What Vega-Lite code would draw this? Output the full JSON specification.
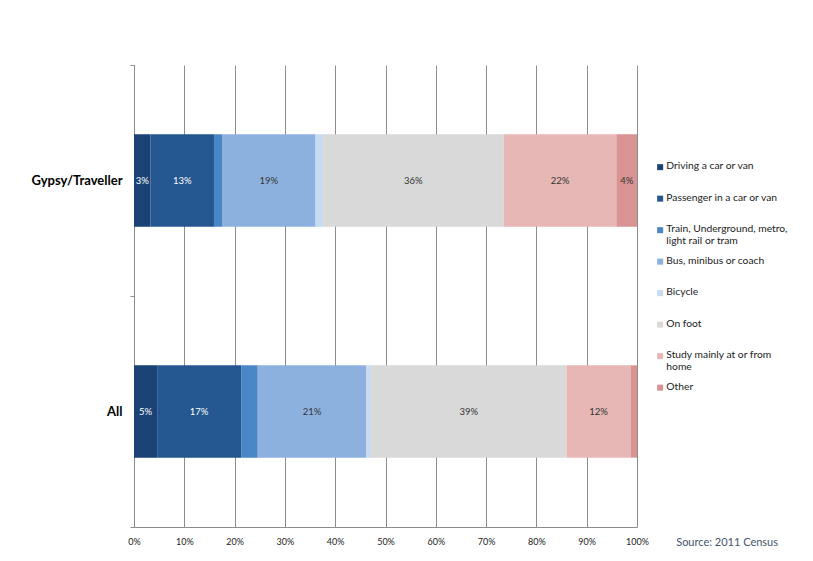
{
  "$schema": "https://vega.github.io/schema/vega-lite/v6.json",
  "description": "Mode of travel to place of study, Gypsy/Traveller vs All, 100% stacked bars.",
  "width": 503,
  "height": 462,
  "autosize": {"type": "none"},
  "padding": {"left": 134, "top": 65, "right": 176, "bottom": 34},
  "background": "white",
  "title": {
    "text": "Source: 2011 Census",
    "orient": "bottom",
    "anchor": "end",
    "frame": "group",
    "offset": 0,
    "dx": 141,
    "dy": -9,
    "fontSize": 11,
    "fontWeight": "normal",
    "font": "Lato",
    "color": "#44546a"
  },
  "data": {
    "values": [
      {"group": "Gypsy/Traveller", "k": 1, "mode": "Driving a car or van", "pct": 3.3, "label": "3%"},
      {"group": "Gypsy/Traveller", "k": 2, "mode": "Passenger in a car or van", "pct": 12.6, "label": "13%"},
      {"group": "Gypsy/Traveller", "k": 3, "mode": "Train, Underground, metro, light rail or tram", "pct": 1.6, "label": ""},
      {"group": "Gypsy/Traveller", "k": 4, "mode": "Bus, minibus or coach", "pct": 18.6, "label": "19%"},
      {"group": "Gypsy/Traveller", "k": 5, "mode": "Bicycle", "pct": 1.5, "label": ""},
      {"group": "Gypsy/Traveller", "k": 6, "mode": "On foot", "pct": 35.9, "label": "36%"},
      {"group": "Gypsy/Traveller", "k": 7, "mode": "Study mainly at or from home", "pct": 22.4, "label": "22%"},
      {"group": "Gypsy/Traveller", "k": 8, "mode": "Other", "pct": 4.1, "label": "4%"},
      {"group": "All", "k": 1, "mode": "Driving a car or van", "pct": 4.6, "label": "5%"},
      {"group": "All", "k": 2, "mode": "Passenger in a car or van", "pct": 16.7, "label": "17%"},
      {"group": "All", "k": 3, "mode": "Train, Underground, metro, light rail or tram", "pct": 3.3, "label": ""},
      {"group": "All", "k": 4, "mode": "Bus, minibus or coach", "pct": 21.6, "label": "21%"},
      {"group": "All", "k": 5, "mode": "Bicycle", "pct": 0.9, "label": ""},
      {"group": "All", "k": 6, "mode": "On foot", "pct": 38.9, "label": "39%"},
      {"group": "All", "k": 7, "mode": "Study mainly at or from home", "pct": 12.7, "label": "12%"},
      {"group": "All", "k": 8, "mode": "Other", "pct": 1.3, "label": ""}
    ]
  },
  "transform": [
    {"stack": "pct", "groupby": ["group"], "sort": [{"field": "k"}], "offset": "normalize", "as": ["x0", "x1"]},
    {"calculate": "(datum.x0 + datum.x1) / 2", "as": "xm"}
  ],
  "encoding": {
    "y": {
      "field": "group",
      "type": "nominal",
      "sort": ["Gypsy/Traveller", "All"],
      "title": null,
      "scale": {"paddingInner": 0, "paddingOuter": 0},
      "axis": {
        "labelFont": "Lato",
        "labelFontSize": 13,
        "labelFontWeight": "bold",
        "labelColor": "#000000",
        "labelPadding": 8,
        "tickBand": "extent",
        "tickSize": 4,
        "tickColor": "#8c8c8c",
        "domainColor": "#8c8c8c"
      }
    }
  },
  "layer": [
    {
      "mark": {"type": "bar", "height": {"band": 0.4}},
      "encoding": {
        "x": {
          "field": "x0",
          "type": "quantitative",
          "title": null,
          "scale": {"domain": [0, 1], "nice": false},
          "axis": {
            "format": ".0%",
            "values": [0, 0.1, 0.2, 0.3, 0.4, 0.5, 0.6, 0.7, 0.8, 0.9, 1],
            "grid": true,
            "gridColor": "#8c8c8c",
            "gridOpacity": 1,
            "domainColor": "#8c8c8c",
            "ticks": false,
            "labelFlush": false,
            "labelFont": "Lato",
            "labelFontSize": 9,
            "labelColor": "#222222",
            "labelPadding": 10
          }
        },
        "x2": {"field": "x1"},
        "color": {
          "field": "mode",
          "type": "nominal",
          "scale": {
            "domain": [
              "Driving a car or van",
              "Passenger in a car or van",
              "Train, Underground, metro, light rail or tram",
              "Bus, minibus or coach",
              "Bicycle",
              "On foot",
              "Study mainly at or from home",
              "Other"
            ],
            "range": ["#1a4274", "#24578f", "#4a86c5", "#8db1de", "#c6daf0", "#d8d9d8", "#e6b7b4", "#d99393"]
          },
          "legend": {
            "orient": "none",
            "legendX": 521,
            "legendY": 97,
            "title": null,
            "padding": 0,
            "symbolType": "square",
            "symbolSize": 36,
            "symbolStrokeWidth": 0,
            "gridAlign": "all",
            "rowPadding": 8.5,
            "labelFont": "Lato",
            "labelFontSize": 10.3,
            "labelLineHeight": 13,
            "labelColor": "#222222",
            "labelOffset": 1,
            "labelExpr": "datum.label == 'Train, Underground, metro, light rail or tram' ? ['Train, Underground, metro,', 'light rail or tram'] : datum.label == 'Study mainly at or from home' ? ['Study mainly at or from', 'home'] : datum.label",
            "encode": {
              "labels": {
                "update": {"baseline": {"value": "top"}, "dy": {"value": -6}}
              }
            }
          }
        },
        "order": {"field": "k"}
      }
    },
    {
      "mark": {"type": "text", "font": "Lato", "fontSize": 9.5},
      "encoding": {
        "x": {"field": "xm", "type": "quantitative", "title": null},
        "text": {"field": "label"},
        "color": {
          "condition": {"test": "datum.k <= 2", "value": "#ffffff"},
          "value": "#333333"
        }
      }
    }
  ],
  "config": {
    "view": {"stroke": null}
  }
}
